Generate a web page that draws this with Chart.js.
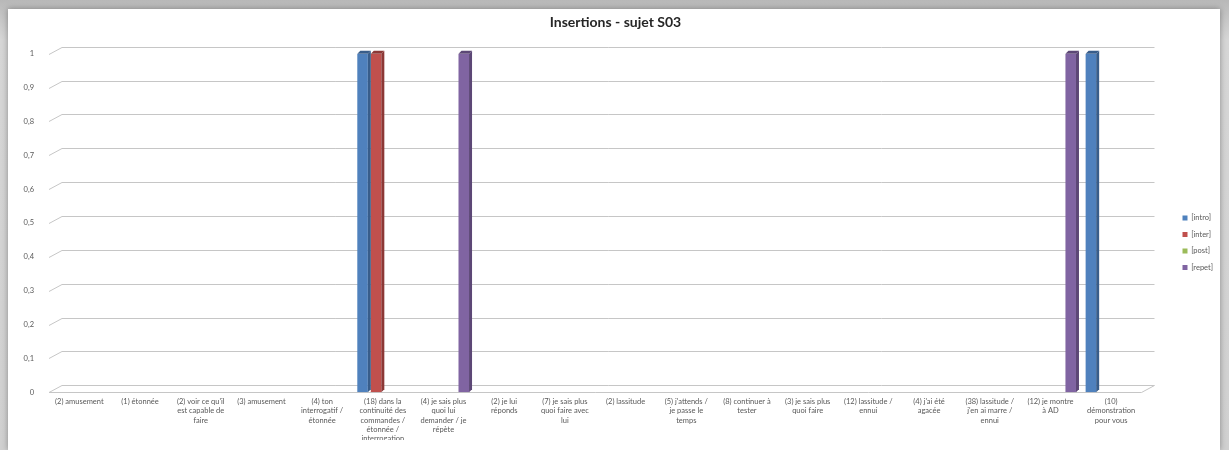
<!DOCTYPE html>
<html>
<head>
<meta charset="utf-8">
<script src="https://cdn.jsdelivr.net/npm/chart.js@4.4.1/dist/chart.umd.min.js"></script>
<style>
    body { margin: 0; width: 1229px; height: 450px; overflow: hidden;
           background: linear-gradient(to bottom, #b8b8b8, #d6d6d6 40px, #d0d0d0); }
    #box { position: absolute; left: 8px; top: 9px; width: 1212px; height: 441px;
           background: #fff; box-shadow: 0 0 6px rgba(0,0,0,0.35); }
    #chart-data { position: absolute; left: 0; top: 0; }
</style>
</head>
<body>
<div id="box"><canvas id="chart-data" width="1215" height="441"></canvas></div>
<script>
var categories = [
    ["(2) amusement"],
    ["(1) étonnée"],
    ["(2) voir ce qu'il", "est capable de", "faire"],
    ["(3) amusement"],
    ["(4) ton", "interrogatif /", "étonnée"],
    ["(18) dans la", "continuité des", "commandes /", "étonnée /", "interrogation"],
    ["(4) je sais plus", "quoi lui", "demander / je", "répète"],
    ["(2) je lui", "réponds"],
    ["(7) je sais plus", "quoi faire avec", "lui"],
    ["(2) lassitude"],
    ["(5) j'attends /", "je passe le", "temps"],
    ["(8) continuer à", "tester"],
    ["(3) je sais plus", "quoi faire"],
    ["(12) lassitude /", "ennui"],
    ["(4) j'ai été", "agacée"],
    ["(38) lassitude /", "j'en ai marre /", "ennui"],
    ["(12) je montre", "à AD"],
    ["(10)", "démonstration", "pour vous"]
];
var seriesNames = ["[intro]", "[inter]", "[post]", "[repet]"];
var intro = [0, 0, 0, 0, 0, 1, 0, 0, 0, 0, 0, 0, 0, 0, 0, 0, 0, 1];
var inter = [0, 0, 0, 0, 0, 1, 0, 0, 0, 0, 0, 0, 0, 0, 0, 0, 0, 0];
var post  = [0, 0, 0, 0, 0, 0, 0, 0, 0, 0, 0, 0, 0, 0, 0, 0, 0, 0];
var repet = [0, 0, 0, 0, 0, 0, 1, 0, 0, 0, 0, 0, 0, 0, 0, 0, 1, 0];

var colors = ["#4F81BD", "#C0504D", "#9BBB59", "#8064A2"];
var sideColors = ["#385D8A", "#8C3836", "#71893F", "#5C4776"];
var DX = 13, DY = 7, DEPTH = 3;

// back wall grid + floor, Excel 3D style
var wall = {
    id: "wall",
    beforeDatasetsDraw(chart) {
        let c = chart.ctx, a = chart.chartArea, y = chart.scales.y;
        c.save();
        c.strokeStyle = "#c6c6c6";
        c.lineWidth = 1;
        y.ticks.forEach((t) => {
            let py = Math.round(y.getPixelForValue(t.value)) + 0.5;
            c.beginPath();
            c.moveTo(a.left, py);
            c.lineTo(a.left + DX, py - DY);
            c.lineTo(a.right + DX, py - DY);
            c.stroke();
        });
        let p0 = Math.round(y.getPixelForValue(0)) + 0.5;
        c.beginPath();
        c.moveTo(a.left, p0);
        c.lineTo(a.right, p0);
        c.lineTo(a.right + DX, p0 - DY);
        c.stroke();
        c.restore();
    },
    afterDatasetsDraw(chart) {
        let c = chart.ctx;
        c.save();
        chart.data.datasets.forEach((ds, i) => {
            chart.getDatasetMeta(i).data.forEach((el, j) => {
                if (!ds.data[j]) return;
                let p = el.getProps(["x", "y", "base", "width"], true);
                let r = p.x + p.width / 2, l = p.x - p.width / 2;
                c.fillStyle = sideColors[i];
                c.beginPath();
                c.moveTo(r, p.y);
                c.lineTo(r + DEPTH, p.y - DEPTH);
                c.lineTo(r + DEPTH, p.base - DEPTH);
                c.lineTo(r, p.base);
                c.closePath();
                c.fill();
                c.beginPath();
                c.moveTo(l, p.y);
                c.lineTo(l + DEPTH, p.y - DEPTH);
                c.lineTo(r + DEPTH, p.y - DEPTH);
                c.lineTo(r, p.y);
                c.closePath();
                c.fill();
            });
        });
        c.restore();
    }
};

var tickFont = { family: "Lato", size: 7.5, lineHeight: 1.22 };

var ctx = document.getElementById("chart-data");
var chart = new Chart(ctx, {
    type: "bar",
    data: {
        labels: categories,
        datasets: [intro, inter, post, repet].map((d, i) => ({
            label: seriesNames[i],
            data: d,
            backgroundColor: colors[i],
            borderWidth: 0
        }))
    },
    options: {
        responsive: false,
        animation: false,
        categoryPercentage: 0.89,
        barPercentage: 0.78,
        layout: { padding: { left: 0, right: 0, top: 0, bottom: 10 } },
        plugins: {
            title: {
                display: true,
                text: "Insertions - sujet S03",
                color: "#262626",
                font: { family: "Lato", size: 14, weight: "bold" },
                padding: { top: 5, bottom: 23 }
            },
            legend: {
                position: "right",
                title: { display: true, text: " ", padding: { top: 22, bottom: 0 } },
                labels: {
                    boxWidth: 5,
                    boxHeight: 5,
                    padding: 9,
                    color: "#595959",
                    font: { family: "Lato", size: 7.5 }
                }
            },
            tooltip: { enabled: false }
        },
        scales: {
            x: {
                grid: { display: false },
                border: { display: false },
                ticks: {
                    autoSkip: false,
                    maxRotation: 0,
                    padding: -3,
                    color: "#595959",
                    font: tickFont
                }
            },
            y: {
                min: 0,
                max: 1,
                grid: { display: false },
                border: { display: false },
                afterFit(scale) { scale.width = 41; },
                ticks: {
                    stepSize: 0.1,
                    padding: 7,
                    color: "#595959",
                    font: tickFont,
                    callback: (v) => (Math.round(v * 10) / 10).toString().replace(".", ",")
                }
            },
            yr: {
                position: "right",
                display: true,
                grid: { display: false },
                border: { display: false },
                ticks: { display: false },
                afterFit(scale) { scale.width = 32; }
            }
        }
    },
    plugins: [wall]
});
</script>
</body>
</html>
